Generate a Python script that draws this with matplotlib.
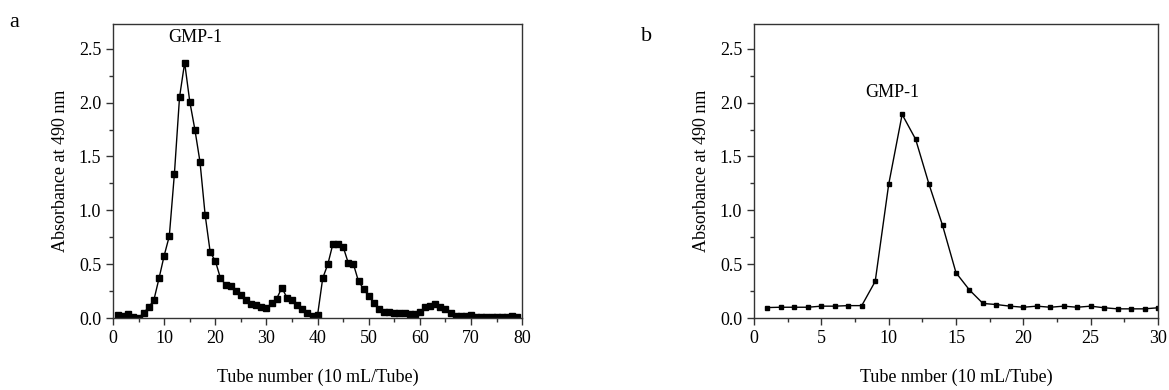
import matplotlib
matplotlib.use("Agg")
import matplotlib.pyplot as plt
from matplotlib.ticker import MultipleLocator

plt.rcParams['font.family'] = ['Liberation Serif', 'DejaVu Serif']

# panel a: tubes 1-79
tubes_a = list(range(1, 80))
abs_a = [0.03, 0.02, 0.04, 0.01, 0.00, 0.05, 0.10, 0.17, 0.37, 0.58,
         0.76, 1.34, 2.05, 2.37, 2.01, 1.75, 1.45, 0.96, 0.61, 0.53,
         0.37, 0.31, 0.30, 0.25, 0.21, 0.17, 0.13, 0.12, 0.105, 0.09,
         0.14, 0.18, 0.28, 0.19, 0.17, 0.12, 0.08, 0.05, 0.02, 0.03,
         0.37, 0.50, 0.69, 0.69, 0.66, 0.51, 0.50, 0.34, 0.27, 0.20,
         0.14, 0.08, 0.06, 0.055, 0.05, 0.045, 0.045, 0.04, 0.04, 0.055,
         0.10, 0.11, 0.13, 0.10, 0.08, 0.05, 0.02, 0.02, 0.02, 0.025,
         0.01, 0.01, 0.01, 0.01, 0.01, 0.01, 0.01, 0.02, 0.01]

# panel b: tubes 1-30
tubes_b = list(range(1, 31))
abs_b = [0.097, 0.10, 0.10, 0.10, 0.11, 0.11, 0.115, 0.115, 0.34, 1.24,
         1.89, 1.66, 1.24, 0.86, 0.42, 0.26, 0.135, 0.125, 0.11, 0.10,
         0.11, 0.10, 0.11, 0.10, 0.11, 0.095, 0.085, 0.085, 0.085, 0.095]

fig = plt.figure(figsize=(11.69, 3.9), dpi=100)
ax1 = fig.add_axes([0.0967, 0.1846, 0.350, 0.754])
ax2 = fig.add_axes([0.645, 0.1846, 0.3456, 0.754])

def style(ax, xmax, xmaj, xmin, xlabel):
    ax.set_xlim(0, xmax)
    ax.set_ylim(0, 2.73)
    ax.xaxis.set_major_locator(MultipleLocator(xmaj))
    ax.xaxis.set_minor_locator(MultipleLocator(xmin))
    ax.yaxis.set_major_locator(MultipleLocator(0.5))
    ax.yaxis.set_minor_locator(MultipleLocator(0.25))
    ax.yaxis.set_major_formatter(matplotlib.ticker.FormatStrFormatter('%.1f'))
    ax.tick_params(which='both', direction='out', top=False, right=False,
                   labelsize=13, width=1, color='#333333')
    ax.tick_params(which='major', length=5)
    ax.tick_params(which='minor', length=3)
    ax.set_xlabel(xlabel, fontsize=13, labelpad=16)
    ax.set_ylabel('Absorbance at 490 nm', fontsize=13, labelpad=7)
    for s in ax.spines.values():
        s.set_linewidth(1)
        s.set_color('#333333')

ax1.plot(tubes_a, abs_a, 'k-s', lw=1, markersize=3.8)
style(ax1, 80, 10, 5, 'Tube number (10 mL/Tube)')
ax1.text(16, 2.56, 'GMP-1', ha='center', fontsize=13)

ax2.plot(tubes_b, abs_b, 'k-s', lw=1, markersize=3.5)
style(ax2, 30, 5, 2.5, 'Tube nmber (10 mL/Tube)')
ax2.text(10.3, 2.05, 'GMP-1', ha='center', fontsize=13)

fig.text(0.008, 0.93, 'a', fontsize=16)
fig.text(0.548, 0.895, 'b', fontsize=16)

fig.savefig('out.png', dpi=100)
